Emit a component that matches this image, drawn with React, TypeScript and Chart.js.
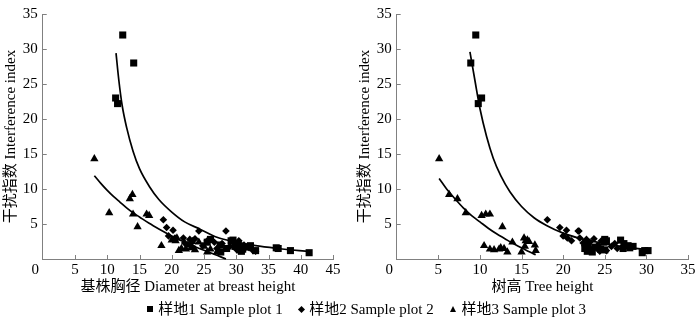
import React, { useEffect, useRef } from 'react';
import { Chart, registerables } from 'chart.js';

Chart.register(...registerables);

// ---------- data ----------
const seriesLabels = ['样地1 Sample plot 1', '样地2 Sample plot 2', '样地3 Sample plot 3'];
const yAxisTitle = '干扰指数 Interference index';
const xTitleDBH = '基株胸径 Diameter at breast height';
const xTitleHeight = '树高 Tree height';
const yRange = [0, 35];
const dbhRange = [0, 45];
const heightRange = [0, 35];
const tickStep = 5;

// Plot 1 (squares)
const plot1Index = [32.0, 28.0, 23.0, 22.2, 2.8, 2.7, 2.6, 2.4, 2.2, 2.0, 1.9, 1.8, 1.7, 1.6, 1.5, 1.5, 1.4, 1.3, 1.2, 1.2, 1.1, 1.0, 0.9];
const plot1DBH = [12.4, 14.1, 11.3, 11.6, 26.0, 29.5, 29.2, 25.5, 30.3, 27.5, 32.2, 29.8, 31.5, 36.2, 36.5, 28.5, 31.0, 30.5, 38.4, 33.0, 30.8, 27.6, 41.3];
const plot1Height = [9.5, 8.9, 10.2, 9.8, 25.0, 26.9, 25.2, 24.9, 27.3, 23.0, 27.8, 28.4, 23.8, 28.0, 27.2, 22.6, 24.5, 25.0, 30.2, 29.8, 22.9, 23.5, 29.5];

// Plot 2 (diamonds)
const plot2Index = [5.6, 4.5, 4.1, 4.0, 4.0, 3.3, 3.0, 3.0, 2.9, 2.8, 2.6, 2.6, 2.4, 2.3, 2.2, 2.0, 1.9, 1.8, 1.7, 1.6, 1.5, 1.4, 1.2, 1.1];
const plot2DBH = [18.7, 19.2, 20.2, 24.2, 28.4, 19.5, 21.8, 20.5, 23.6, 22.8, 30.4, 25.5, 26.6, 22.0, 27.8, 31.2, 24.8, 29.0, 23.2, 32.0, 27.0, 30.0, 32.6, 33.0];
const plot2Height = [18.1, 19.6, 20.4, 21.9, 21.8, 20.0, 20.5, 22.0, 23.7, 22.8, 24.6, 21.0, 23.2, 22.4, 26.2, 24.2, 22.6, 25.8, 23.0, 24.0, 26.5, 23.5, 25.2, 24.4];

// Plot 3 (triangles)
const plot3Index = [14.3, 9.2, 8.6, 6.6, 6.4, 6.4, 6.2, 4.6, 3.0, 2.7, 2.6, 2.5, 2.4, 2.0, 1.9, 1.8, 1.6, 1.5, 1.4, 1.4, 1.3, 1.2, 1.0, 1.0];
const plot3DBH = [8.0, 13.9, 13.5, 10.3, 14.0, 16.1, 16.5, 14.7, 20.8, 20.0, 20.6, 23.2, 24.2, 22.5, 18.4, 25.0, 23.0, 21.5, 26.0, 22.2, 23.6, 21.1, 25.5, 27.0];
const plot3Height = [5.1, 6.3, 7.3, 8.3, 10.7, 11.2, 10.2, 12.7, 15.3, 15.7, 15.5, 15.9, 13.9, 16.6, 10.5, 15.4, 12.5, 12.9, 11.2, 12.3, 11.7, 16.7, 13.3, 15.0];

// Fitted curves
const fitDBHUpperX = [11.36, 11.8, 12.3, 13.0, 14.0, 15.0, 16.5, 18.0, 20.0, 22.0, 24.3, 27.0, 30.0, 33.0, 36.5, 41.4];
const fitDBHUpperY = [29.4, 25.5, 22.0, 18.8, 15.4, 12.9, 10.4, 8.5, 6.7, 5.3, 4.3, 3.1, 2.4, 1.9, 1.5, 1.05];
const fitDBHLowerX = [8.0, 9.0, 10.0, 11.0, 12.0, 13.0, 14.0, 15.0, 16.5, 18.0, 20.0, 22.0, 24.0, 26.0, 28.4];
const fitDBHLowerY = [11.9, 10.8, 9.8, 8.9, 8.1, 7.3, 6.6, 6.0, 5.1, 4.3, 3.3, 2.4, 1.6, 0.9, 0.0];
const fitHeightUpperX = [8.8, 9.4, 10.0, 10.8, 11.6, 12.5, 13.6, 15.0, 16.5, 18.0, 20.0, 22.5, 25.0, 27.5, 30.2];
const fitHeightUpperY = [29.6, 25.5, 21.5, 17.5, 14.4, 11.9, 9.6, 7.5, 5.9, 4.8, 3.7, 2.8, 2.2, 1.7, 1.35];
const fitHeightLowerX = [5.1, 6.0, 7.0, 8.0, 9.0, 10.0, 11.0, 12.0, 13.0, 14.0, 15.0, 16.0, 16.7];
const fitHeightLowerY = [11.5, 10.0, 8.6, 7.3, 6.2, 5.3, 4.4, 3.6, 2.9, 2.2, 1.6, 1.0, 0.6];

// ---------- styling ----------
const FONT = "'Liberation Serif', 'Times New Roman', 'Noto Sans CJK SC', serif";
const AXIS_COLOR = '#808080';
const FONT_SIZE = 15;

const zip = (xs: number[], ys: number[]) => xs.map((x, i) => ({ x, y: ys[i] }));

const inwardTicks = {
  id: 'inwardTicks',
  afterDraw(chart: any) {
    const { ctx, chartArea, scales } = chart;
    const xs = scales.x;
    const ys = scales.y;
    ctx.save();
    ctx.strokeStyle = AXIS_COLOR;
    ctx.lineWidth = 1;
    ctx.beginPath();
    xs.ticks.forEach((t: any) => {
      if (t.value === 0) return;
      const px = Math.round(xs.getPixelForValue(t.value)) + 0.5;
      ctx.moveTo(px, chartArea.bottom);
      ctx.lineTo(px, chartArea.bottom - 4);
    });
    ys.ticks.forEach((t: any) => {
      if (t.value === 0) return;
      const py = Math.round(ys.getPixelForValue(t.value)) + 0.5;
      ctx.moveTo(chartArea.left, py);
      ctx.lineTo(chartArea.left + 4, py);
    });
    ctx.stroke();
    ctx.fillStyle = '#000';
    ctx.font = `${FONT_SIZE}px ${FONT}`;
    ctx.textAlign = 'center';
    ctx.textBaseline = 'middle';
    ctx.fillText('0', chartArea.left - 7.5, chartArea.bottom + 11);
    ctx.restore();
  },
};

type PanelCfg = {
  x1: number[];
  x2: number[];
  x3: number[];
  upX: number[];
  upY: number[];
  loX: number[];
  loY: number[];
  xRange: number[];
  xTitle: string;
  axisWidth: number;
  padRight: number;
  yTitlePad: number;
};

function makeConfig(p: PanelCfg): any {
  const marker = (i: number, style: string, r: number, xs: number[], ys: number[]) => ({
    label: seriesLabels[i],
    data: zip(xs, ys),
    pointStyle: style,
    pointRadius: r,
    pointHoverRadius: r,
    backgroundColor: '#000',
    borderColor: '#000',
    borderWidth: 0,
    clip: false,
  });
  const fit = (xs: number[], ys: number[]) => ({
    label: 'fit',
    data: zip(xs, ys),
    showLine: true,
    pointRadius: 0,
    borderColor: '#000',
    borderWidth: 1.7,
    tension: 0.4,
    cubicInterpolationMode: 'monotone',
    fill: false,
    clip: false,
  });
  const font = { family: FONT, size: FONT_SIZE };
  return {
    type: 'scatter',
    data: {
      datasets: [
        fit(p.upX, p.upY),
        fit(p.loX, p.loY),
        marker(0, 'rect', 5, p.x1, plot1Index),
        marker(1, 'rectRot', 3.8, p.x2, plot2Index),
        marker(2, 'triangle', 4.8, p.x3, plot3Index),
      ],
    },
    options: {
      animation: false,
      responsive: false,
      events: [],
      layout: { padding: { left: 0, right: p.padRight, top: 14, bottom: 0 } },
      plugins: { legend: { display: false }, tooltip: { enabled: false } },
      scales: {
        x: {
          type: 'linear',
          min: p.xRange[0],
          max: p.xRange[1],
          ticks: {
            stepSize: tickStep,
            font,
            color: '#000',
            padding: 2,
            maxRotation: 0,
            autoSkip: false,
            callback: (v: number) => (v === 0 ? '' : String(v)),
          },
          grid: { drawOnChartArea: false, drawTicks: false },
          border: { display: true, color: AXIS_COLOR, width: 1 },
          title: { display: true, text: p.xTitle, font, color: '#000', padding: { top: 0, bottom: 21 } },
          afterFit: (s: any) => {
            s.height = 58;
          },
        },
        y: {
          type: 'linear',
          min: yRange[0],
          max: yRange[1],
          ticks: {
            stepSize: tickStep,
            font,
            color: '#000',
            padding: 5,
            callback: (v: number) => (v === 0 ? '' : String(v)),
          },
          grid: { drawOnChartArea: false, drawTicks: false },
          border: { display: true, color: AXIS_COLOR, width: 1 },
          title: { display: true, text: yAxisTitle, font, color: '#000', padding: { top: p.yTitlePad, bottom: 0 } },
          afterFit: (s: any) => {
            s.width = p.axisWidth;
          },
        },
      },
    },
    plugins: [inwardTicks],
  };
}

function Panel({ left, cfg }: { left: number; cfg: PanelCfg }) {
  const ref = useRef<HTMLCanvasElement | null>(null);
  useEffect(() => {
    if (!ref.current) return;
    const chart = new Chart(ref.current, makeConfig(cfg));
    return () => chart.destroy();
  }, []);
  return (
    <canvas
      ref={ref}
      width={350}
      height={317}
      style={{ position: 'absolute', left, top: 0, width: 350, height: 317 }}
    />
  );
}

const legendLefts = [146.7, 297.7, 450];

function Marker({ kind }: { kind: number }) {
  const base: React.CSSProperties = { position: 'absolute', left: 0 };
  if (kind === 0) return <span style={{ ...base, top: 6, width: 6, height: 6, background: '#000' }} />;
  if (kind === 1)
    return <span style={{ ...base, left: 1, top: 6.5, width: 5, height: 5, background: '#000', transform: 'rotate(45deg)' }} />;
  return (
    <span
      style={{
        ...base,
        top: 5.5,
        width: 0,
        height: 0,
        borderLeft: '3.5px solid transparent',
        borderRight: '3.5px solid transparent',
        borderBottom: '6.5px solid #000',
      }}
    />
  );
}

export default function App() {
  const left: PanelCfg = {
    x1: plot1DBH,
    x2: plot2DBH,
    x3: plot3DBH,
    upX: fitDBHUpperX,
    upY: fitDBHUpperY,
    loX: fitDBHLowerX,
    loY: fitDBHLowerY,
    xRange: dbhRange,
    xTitle: xTitleDBH,
    axisWidth: 42.75,
    padRight: 17,
    yTitlePad: 2,
  };
  const right: PanelCfg = {
    x1: plot1Height,
    x2: plot2Height,
    x3: plot3Height,
    upX: fitHeightUpperX,
    upY: fitHeightUpperY,
    loX: fitHeightLowerX,
    loY: fitHeightLowerY,
    xRange: heightRange,
    xTitle: xTitleHeight,
    axisWidth: 46.7,
    padRight: 12,
    yTitlePad: 6,
  };
  return (
    <div style={{ position: 'absolute', left: 0, top: 0, width: 700, height: 317, background: '#fff', overflow: 'hidden' }}>
      <Panel left={0} cfg={left} />
      <Panel left={350} cfg={right} />
      {seriesLabels.map((label, i) => (
        <div
          key={label}
          style={{
            position: 'absolute',
            left: legendLefts[i],
            top: 300,
            height: 18,
            lineHeight: '18px',
            fontFamily: FONT,
            fontSize: FONT_SIZE,
            color: '#000',
            whiteSpace: 'nowrap',
            paddingLeft: 11.5,
          }}
        >
          <Marker kind={i} />
          {label}
        </div>
      ))}
    </div>
  );
}
